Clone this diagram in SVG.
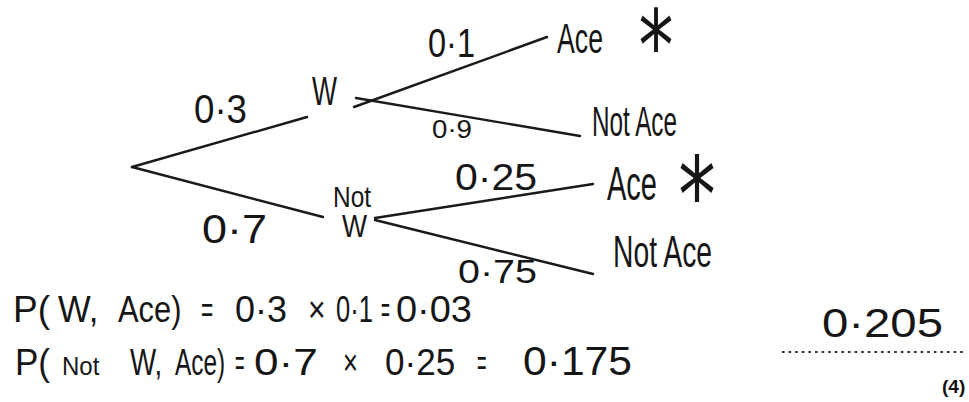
<svg xmlns="http://www.w3.org/2000/svg" width="969" height="402" viewBox="0 0 969 402">
<style>
.h{font-family:"Liberation Sans","DejaVu Sans",sans-serif;fill:#161616}
.ln{stroke:#1a1a1a;stroke-width:2.4;stroke-linecap:round;fill:none}
.ast{font-family:"DejaVu Sans",sans-serif;fill:#161616}
</style>
<rect width="969" height="402" fill="#ffffff"/>
<g id="connectors">
<line class="ln" x1="132" y1="167" x2="307" y2="117"/>
<line class="ln" x1="132" y1="167" x2="323" y2="217"/>
<line class="ln" x1="354" y1="107" x2="547" y2="37"/>
<line class="ln" x1="356" y1="98" x2="580" y2="136"/>
<line class="ln" x1="375" y1="218" x2="593" y2="184"/>
<line class="ln" x1="375" y1="220" x2="593" y2="274"/>
</g>
<g id="edge-labels">
<text class="h" x="194" y="123" font-size="40" textLength="53" lengthAdjust="spacingAndGlyphs">0·3</text>
<text class="h" x="202" y="243" font-size="40" textLength="65" lengthAdjust="spacingAndGlyphs">0·7</text>
<text class="h" x="428" y="57" font-size="40" textLength="47" lengthAdjust="spacingAndGlyphs">0·1</text>
<text class="h" x="432" y="138" font-size="26" textLength="40" lengthAdjust="spacingAndGlyphs">0·9</text>
<text class="h" x="455" y="190" font-size="36" textLength="82" lengthAdjust="spacingAndGlyphs">0·25</text>
<text class="h" x="458" y="283" font-size="34" textLength="79" lengthAdjust="spacingAndGlyphs">0·75</text>
</g>
<g id="node-W">
<text class="h" x="312" y="105" font-size="40" textLength="25" lengthAdjust="spacingAndGlyphs">W</text>
</g>
<g id="node-notW">
<text class="h" x="333" y="207" font-size="30" textLength="38" lengthAdjust="spacingAndGlyphs">Not</text>
<text class="h" x="342" y="237" font-size="32" textLength="25" lengthAdjust="spacingAndGlyphs">W</text>
</g>
<g id="node-ace-1">
<text class="h" x="557" y="53" font-size="42" textLength="46" lengthAdjust="spacingAndGlyphs">Ace</text>
<text class="ast" transform="translate(656,80) scale(1,1.4)" text-anchor="middle" font-size="70">*</text>
</g>
<g id="node-notace-1">
<text class="h" x="592" y="136" font-size="42" textLength="85" lengthAdjust="spacingAndGlyphs">Not Ace</text>
</g>
<g id="node-ace-2">
<text class="h" x="607" y="200" font-size="48" textLength="50" lengthAdjust="spacingAndGlyphs">Ace</text>
<text class="ast" transform="translate(697,232) scale(1,1.4)" text-anchor="middle" font-size="75">*</text>
</g>
<g id="node-notace-2">
<text class="h" x="613" y="267" font-size="44" textLength="99" lengthAdjust="spacingAndGlyphs">Not Ace</text>
</g>
<g id="working">
<text class="h" y="322" font-size="36"><tspan x="13" textLength="37" lengthAdjust="spacingAndGlyphs">P(</tspan><tspan x="58" textLength="50" lengthAdjust="spacingAndGlyphs">W, </tspan><tspan x="118" textLength="72" lengthAdjust="spacingAndGlyphs">Ace) </tspan><tspan x="201" textLength="18" lengthAdjust="spacingAndGlyphs">= </tspan><tspan x="235" textLength="62" lengthAdjust="spacingAndGlyphs">0·3 </tspan><tspan x="308" textLength="26" lengthAdjust="spacingAndGlyphs">× </tspan><tspan x="336" textLength="44" lengthAdjust="spacingAndGlyphs">0·1 </tspan><tspan x="381" textLength="13" lengthAdjust="spacingAndGlyphs">= </tspan><tspan x="396" textLength="76" lengthAdjust="spacingAndGlyphs">0·03</tspan></text>
<text class="h" y="375" font-size="36"><tspan x="15" textLength="35" lengthAdjust="spacingAndGlyphs">P(</tspan><tspan x="62" font-size="26" textLength="44" lengthAdjust="spacingAndGlyphs">Not </tspan><tspan x="130" textLength="40" lengthAdjust="spacingAndGlyphs">W, </tspan><tspan x="175" textLength="57" lengthAdjust="spacingAndGlyphs">Ace) </tspan><tspan x="235" textLength="14" lengthAdjust="spacingAndGlyphs">= </tspan><tspan x="254" textLength="76" lengthAdjust="spacingAndGlyphs">0·7 </tspan><tspan x="343" textLength="22" lengthAdjust="spacingAndGlyphs">× </tspan><tspan x="385" textLength="80" lengthAdjust="spacingAndGlyphs">0·25 </tspan><tspan x="477" textLength="14" lengthAdjust="spacingAndGlyphs">= </tspan><tspan x="523" font-size="40" textLength="109" lengthAdjust="spacingAndGlyphs">0·175</tspan></text>
</g>
<g id="answer">
<text class="h" x="822" y="337" font-size="40" textLength="121" lengthAdjust="spacingAndGlyphs">0·205</text>
<line x1="782" y1="352" x2="965" y2="352" stroke="#333" stroke-width="2.2" stroke-dasharray="2.6 4"/>
<text x="942" y="393" font-family="Liberation Sans, sans-serif" font-weight="bold" font-size="19" fill="#111">(4)</text>
</g>
</svg>
